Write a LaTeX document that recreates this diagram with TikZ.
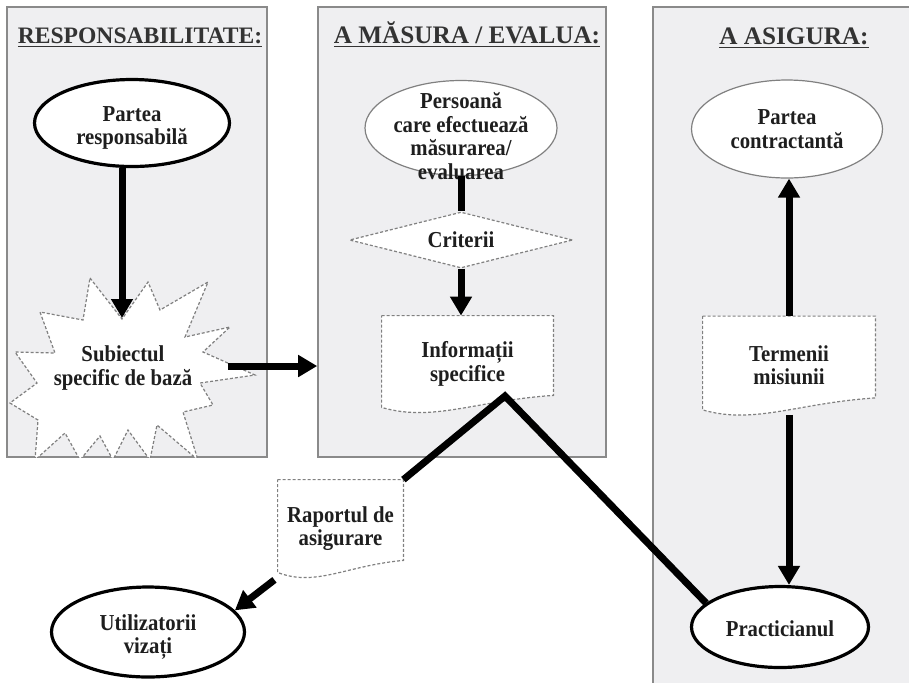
\documentclass[tikz,border=0pt]{standalone}
\usepackage{fontspec}
\setmainfont{Liberation Serif}
\newfontfamily\bodyfont{Liberation Serif}[FakeStretch=0.91]
\usetikzlibrary{arrows.meta}
\usetikzlibrary{shapes.geometric}
\usetikzlibrary{backgrounds}
\usetikzlibrary{calc}
\definecolor{panelfill}{HTML}{EFEFF1}
\definecolor{panelline}{HTML}{8A8A8A}
\definecolor{dashgray}{HTML}{808080}
\definecolor{titlegray}{HTML}{333333}
\definecolor{inkblack}{HTML}{1E1E1E}

\begin{document}
\begin{tikzpicture}[x=0.5pt,y=-0.5pt,
    panel/.style={draw=panelline,fill=panelfill,line width=0.8pt,inner sep=0pt},
    heading/.style={font=\fontsize{11.8}{14}\selectfont\bfseries,text=titlegray,anchor=base,inner sep=0pt},
    txt/.style={font=\bodyfont\fontsize{11.4}{11.7}\selectfont\bfseries,text=inkblack,align=center},
    dashline/.style={draw=dashgray,line width=0.6pt,dash pattern=on 1.5pt off 1pt},
    boldell/.style={ellipse,draw=black,line width=1.6pt,fill=white,inner sep=0pt},
    thinell/.style={ellipse,draw=dashgray,line width=0.6pt,fill=white,inner sep=0pt},
    docnode/.style={txt,inner sep=0pt},
    bigline/.style={line width=3.5pt,black},
    bigarrow/.style={bigline,-{Triangle[length=9.5pt,width=10.5pt]}}]

    \useasboundingbox (0,0) rectangle (909,682);
    \clip (0,0) rectangle (909,682);

    \begin{scope}[on background layer]
        \node[panel,minimum width=130pt,minimum height=225pt] (resppanel) at (137,232) {};
        \node[panel,minimum width=144pt,minimum height=225pt] (measpanel) at (462,232) {};
        \node[panel,minimum width=140pt,minimum height=345pt] (assurpanel) at (793,352) {};
    \end{scope}

    \node[heading] (resptitle) at (140,43) {\underline{RESPONSABILITATE:}};
    \node[heading,font=\fontsize{12.6}{14}\selectfont\bfseries] (meastitle) at (467,43) {\underline{A MĂSURA / EVALUA:}};
    \node[heading,font=\fontsize{12.6}{14}\selectfont\bfseries] (assurtitle) at (794,44) {\underline{A ASIGURA:}};

    % starburst, cut by the panel
    \begin{scope}
        \clip (resppanel.south west) rectangle (resppanel.north east);
        \filldraw[dashline,fill=white]
        (90,278) -- (122,319) -- (148,282) -- (160,310) -- (208,282) --
        (185,337) -- (230,327) -- (203,352) -- (255,375) -- (200,383) --
        (213,405) -- (183,412) -- (198,460) -- (157,425) -- (150,460) --
        (128,430) -- (113,460) -- (100,436) -- (80,460) -- (65,433) --
        (35,460) -- (38,420) -- (10,403) -- (37,383) -- (15,352) --
        (55,353) -- (40,312) -- (83,320) -- cycle;
    \end{scope}
    \node[txt] (subject) at (123,368) {Subiectul\\specific de bază};
    \coordinate (subjtop) at (122,318);
    \coordinate (subjright) at (228,366);

    \node[boldell,minimum width=97.5pt,minimum height=43.5pt,
        label={[txt,yshift=-2.5pt]center:Partea\\responsabilă}] (resp) at (132,123) {};
    \node[thinell,minimum width=96pt,minimum height=47.5pt,
        label={[txt,yshift=-4pt]center:Persoană\\care efectuează\\măsurarea/\\evaluarea}] (person) at (461,128) {};
    \node[txt,diamond,aspect=4,dashline,fill=white,inner sep=0pt,
        minimum width=111.5pt,minimum height=28pt] (criteria) at (461,240) {Criterii};
    \node[docnode,minimum width=85.5pt,minimum height=48pt] (info) at (467.5,364) {Informații\\specifice};
    \node[docnode,minimum width=62.5pt,minimum height=48.5pt] (report) at (340.5,528.5) {Raportul de\\asigurare};
    \node[docnode,minimum width=86pt,minimum height=49pt] (terms) at (789,365.5) {Termenii\\misiunii};
    \node[boldell,minimum width=96.5pt,minimum height=45pt,
        label={[txt,yshift=-2.5pt]center:Utilizatorii\\vizați}] (users) at (148,632) {};
    \node[boldell,minimum width=88.5pt,minimum height=40.5pt,
        label={[txt,yshift=-1pt]center:Practicianul}] (pract) at (780,627) {};
    \node[thinell,minimum width=95.5pt,minimum height=49pt,
        label={[txt]center:Partea\\contractantă}] (contract) at (787,129) {};

    \begin{scope}[on background layer]
        \foreach \docname in {info,report,terms}
        \filldraw[dashline,fill=white] (\docname.north west) -- (\docname.north east) --
        ([yshift=8.5pt]\docname.south east)
        .. controls ($(\docname.south east)!0.45!(\docname.south west)+(0,6pt)$)
        and ($(\docname.south east)!0.7!(\docname.south west)+(0,-5pt)$) ..
        ([yshift=2.5pt]\docname.south west) -- cycle;
    \end{scope}

    \coordinate (infotip) at (505,396);

    \draw[bigarrow] (subjtop |- resp.south) -- (subjtop);
    \draw[bigarrow] (subjright) -- (subjright -| measpanel.west);
    \draw[bigline] (person) -- (criteria);
    \draw[bigarrow] (criteria.south) -- (criteria.south |- info.north);
    \draw[bigline] (report.north east) -- (infotip) -- (pract.162);
    \draw[bigarrow,shorten <=2pt] (report.south west) -- (users.14);
    \draw[bigarrow] (terms.north) -- (terms.north |- contract.south);
    \draw[bigarrow] (terms.south) -- (terms.south |- pract.north);
\end{tikzpicture}
\end{document}
